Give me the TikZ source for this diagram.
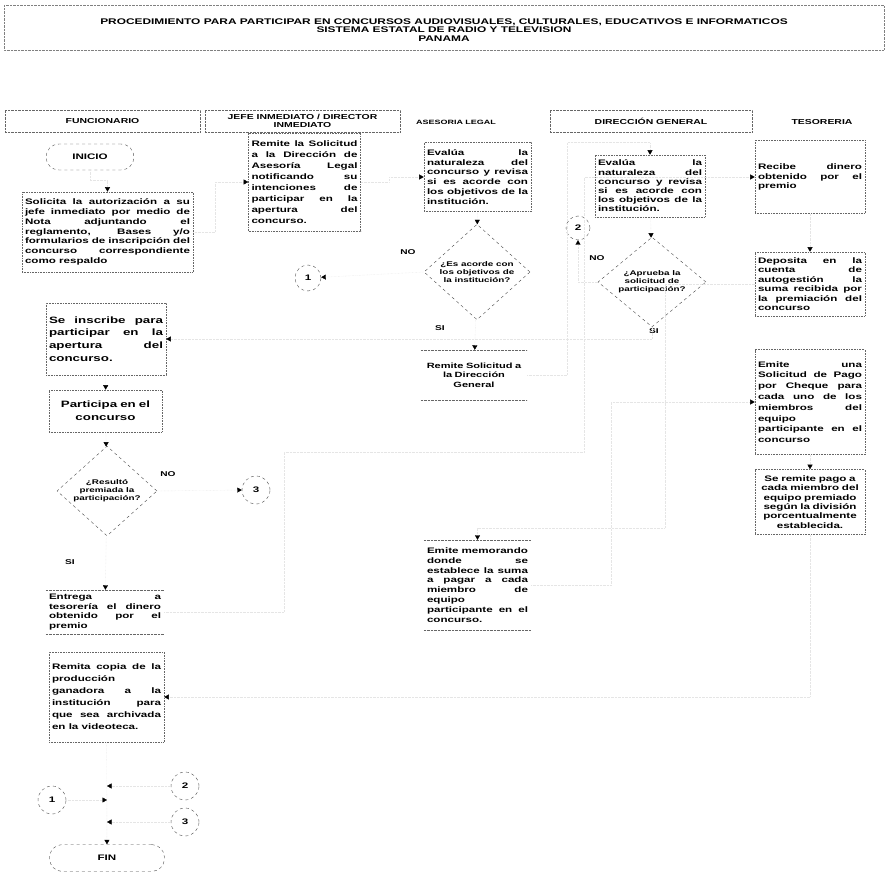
\documentclass[tikz,border=0pt]{standalone}
\usepackage{fontspec}
\newfontfamily\scanfont[FakeStretch=1.45]{Liberation Sans}
\usetikzlibrary{positioning,shapes.geometric,arrows.meta,calc}
\hyphenpenalty=10000
\exhyphenpenalty=10000
\tolerance=9999

\tikzset{
  every node/.style={font=\scanfont\bfseries\fontsize{8}{9.8}\selectfont},
  procbox/.style={draw=black!60, densely dotted, line width=0.6pt, inner sep=3pt, align=justify},
  openbox/.style={inner sep=3pt, align=justify},
  bigtext/.style={font=\scanfont\bfseries\fontsize{9.2}{12.8}\selectfont},
  term/.style={draw=black!70, dashed, rounded corners=13pt, minimum width=88pt, minimum height=26pt},
  decis/.style={diamond, draw=black!70, dashed, inner sep=0pt, align=center,
    font=\scanfont\bfseries\fontsize{6.8}{8}\selectfont},
  conn/.style={circle, draw=black!70, dashed, minimum size=28pt, inner sep=0pt},
  flow/.style={draw=black!10, densely dotted, -{Triangle[black,length=4.5pt,width=5pt]}},
  lanehead/.style={draw=black!60, densely dotted, minimum height=22pt, inner sep=1.5pt, align=center,
    font=\scanfont\bfseries\fontsize{7.2}{8.5}\selectfont},
  headtext/.style={align=center, font=\scanfont\bfseries\fontsize{7.2}{8.5}\selectfont},
  yesno/.style={font=\scanfont\bfseries\fontsize{7}{8}\selectfont}
}

\begin{document}
\begin{tikzpicture}[x=1pt,y=-1pt]
\fill[white] (0,0) rectangle (888,874);
\useasboundingbox (0,0) rectangle (888,874);

% title
\draw[densely dotted, black!50] (4,5) rectangle (884,50);
\node[align=center, font=\scanfont\bfseries\fontsize{8.2}{8.2}\selectfont] (title) at (444,30)
  {PROCEDIMIENTO PARA PARTICIPAR EN CONCURSOS AUDIOVISUALES, CULTURALES, EDUCATIVOS E INFORMATICOS\\
   SISTEMA ESTATAL DE RADIO Y TELEVISION\\ PANAMA};

% lanes
\node[lanehead, minimum width=195pt] (hfun) at (102.5,121) {FUNCIONARIO};
\node[lanehead, minimum width=195pt] (hjefe) at (302.5,121) {JEFE INMEDIATO / DIRECTOR\\INMEDIATO};
\node[headtext, font=\scanfont\bfseries\fontsize{6.2}{8}\selectfont] (hase) at (456,122) {ASESORIA LEGAL};
\node[lanehead, minimum width=202pt] (hdir) at (651,121) {DIRECCI\'ON GENERAL};
\node[headtext] (htes) at (822,122) {TESORERIA};

% funcionario
\node[term] (inicio) at (90,157) {INICIO};
\node[procbox, text width=165pt, minimum height=80pt] (solicita) at (107.5,232)
  {Solicita la autorizaci\'on a su\linebreak jefe inmediato por medio de\linebreak Nota adjuntando el\linebreak
   reglamento, Bases y/o\linebreak formularios de inscripci\'on del\linebreak concurso correspondiente\linebreak como respaldo};
\node[procbox, bigtext, text width=114pt, minimum height=72pt] (inscribe) at (106,339)
  {Se inscribe para\linebreak participar en la\linebreak apertura del\linebreak concurso.};
\node[procbox, bigtext, align=center, text width=107pt, minimum height=42pt] (participa) at (105.5,411)
  {Participa en el\\concurso};
\node[decis, minimum width=100pt, minimum height=74pt] (resulto) at (107,491)
  {¿Result\'o\\premiada la\\participaci\'on?};
\node[yesno] (no1) at (168,474) {NO};
\node[yesno] (si1) at (70,562) {SI};
\node[openbox, text width=112pt, minimum height=44pt] (entrega) at (105,612)
  {Entrega a\linebreak tesorer\'ia el dinero\linebreak obtenido por el\linebreak premio};
\node[procbox, text width=109pt, minimum height=90pt,
  font=\scanfont\bfseries\fontsize{8}{12}\selectfont] (remita) at (106.5,697)
  {Remita copia de la\linebreak producci\'on\linebreak ganadora a la\linebreak instituci\'on para\linebreak
   que sea archivada\linebreak en la videoteca.};
\node[conn] (c2f) at (185,786) {2};
\node[conn] (c1f) at (52,800) {1};
\node[conn] (c3f) at (185,822) {3};
\node[term, minimum width=115pt, minimum height=27pt] (fin) at (107,858) {FIN};

% jefe inmediato
\node[procbox, text width=106pt, minimum height=98pt,
  font=\scanfont\bfseries\fontsize{8}{11}\selectfont] (remite) at (304.5,182)
  {Remite la Solicitud\linebreak a la Direcci\'on de\linebreak Asesor\'ia Legal\linebreak notificando su\linebreak
   intenciones de\linebreak participar en la\linebreak apertura del\linebreak concurso.};
\node[conn, minimum size=26pt] (c1j) at (308,278) {1};
\node[conn] (c3j) at (256,490) {3};

% asesoria legal
\node[procbox, text width=101pt, minimum height=69pt] (evalua) at (477.5,177)
  {Eval\'ua la\linebreak naturaleza del\linebreak concurso y revisa\linebreak si es acorde con\linebreak
   los objetivos de la\linebreak instituci\'on.};
\node[decis, minimum width=106pt, minimum height=78pt] (acorde) at (477,272)
  {¿Es acorde con\\los objetivos de\\la instituci\'on?};
\node[yesno] (no2) at (408,252) {NO};
\node[yesno] (si2) at (440,328) {SI};
\node[openbox, align=center, text width=100pt, minimum height=50pt,
  font=\scanfont\bfseries\fontsize{7.6}{9.5}\selectfont] (remsol) at (474,375)
  {Remite Solicitud a\\la Direcci\'on\\General};
\node[openbox, text width=101pt, minimum height=90pt] (memo) at (477.5,585)
  {Emite memorando\linebreak donde se\linebreak establece la suma\linebreak a pagar a cada\linebreak
   miembro de\linebreak equipo\linebreak participante en el\linebreak concurso.};

% direccion general
\node[procbox, text width=104pt, minimum height=62pt,
  font=\scanfont\bfseries\fontsize{8}{9.2}\selectfont] (evalua2) at (650,186)
  {Eval\'ua la\linebreak naturaleza del\linebreak concurso y revisa\linebreak si es acorde con\linebreak
   los objetivos de la\linebreak instituci\'on.};
\node[conn, minimum size=24pt] (c2d) at (578,228) {2};
\node[decis, minimum width=108pt, minimum height=80pt] (aprueba) at (652,282)
  {¿Aprueba la\\solicitud de\\participaci\'on?};
\node[yesno] (no3) at (597,258) {NO};
\node[yesno] (si3) at (654,331) {SI};

% tesoreria
\node[procbox, text width=104pt, minimum height=73pt] (recibe) at (810,177)
  {Recibe dinero\linebreak obtenido por el\linebreak premio};
\node[procbox, text width=104pt, minimum height=64pt,
  font=\scanfont\bfseries\fontsize{8}{9.5}\selectfont] (deposita) at (810,284)
  {Deposita en la\linebreak cuenta de\linebreak autogesti\'on la\linebreak suma recibida por\linebreak
   la premiaci\'on del\linebreak concurso};
\node[procbox, text width=104pt, minimum height=105pt,
  font=\scanfont\bfseries\fontsize{8}{10.8}\selectfont] (emite) at (810,402)
  {Emite una\linebreak Solicitud de Pago\linebreak por Cheque para\linebreak cada uno de los\linebreak
   miembros del\linebreak equipo\linebreak participante en el\linebreak concurso};
\node[procbox, align=center, text width=104pt, minimum height=65pt,
  font=\scanfont\bfseries\fontsize{8}{9.3}\selectfont] (pago) at (810,502)
  {Se remite pago a\\cada miembro del\\equipo premiado\\seg\'un la divisi\'on\\porcentualmente\\establecida.};

% open boxes: only top and bottom rules
\foreach \b in {entrega,remsol,memo}
  \draw[densely dotted, black!60] (\b.north west) -- (\b.north east) (\b.south west) -- (\b.south east);

% connectors
\draw[flow] (inicio.south) -- ++(0,10) -| (solicita.north);
\draw[flow] (solicita.east) -- ++(22,0) |- (remite.west);
\draw[flow] (remite.east) -- ++(28,0) |- (evalua.west);
\draw[flow] (evalua) -- (acorde);
\draw[flow] (acorde.west) -- (c1j);
\draw[flow] (acorde) -- (remsol);
\draw[flow] (remsol.east) -- ++(40,0) |- ($(evalua2.north)+(0,-12)$) -- (evalua2.north);
\draw[flow] (evalua2) -- (aprueba);
\draw[flow] (aprueba.west) -| (c2d.south);
\draw[flow] (aprueba.south) |- (inscribe.east);
\draw[flow] (inscribe) -- (participa);
\draw[flow] (participa) -- (resulto);
\draw[flow] (resulto.east) -- (c3j.west);
\draw[flow] (resulto) -- (entrega);
\draw[flow] (entrega.east) -- ++(120,0) |- ++(0,-160) -| ++(300,0) |- (recibe.west);
\draw[flow] (recibe) -- (deposita);
\draw[flow] (deposita.west) -- ++(-90,0) |- ($(memo.north)+(0,-12)$) -- (memo.north);
\draw[flow] (memo.east) -- ++(80,0) |- (emite.west);
\draw[flow] (emite) -- (pago);
\draw[flow] (pago.south) |- (remita.east);
\draw[flow] (remita) -- (fin);
\draw[flow] (c2f.west) -- (c2f.west -| fin.north);
\draw[flow] (c1f.east) -- (c1f.east -| fin.north);
\draw[flow] (c3f.west) -- (c3f.west -| fin.north);
\end{tikzpicture}
\end{document}
